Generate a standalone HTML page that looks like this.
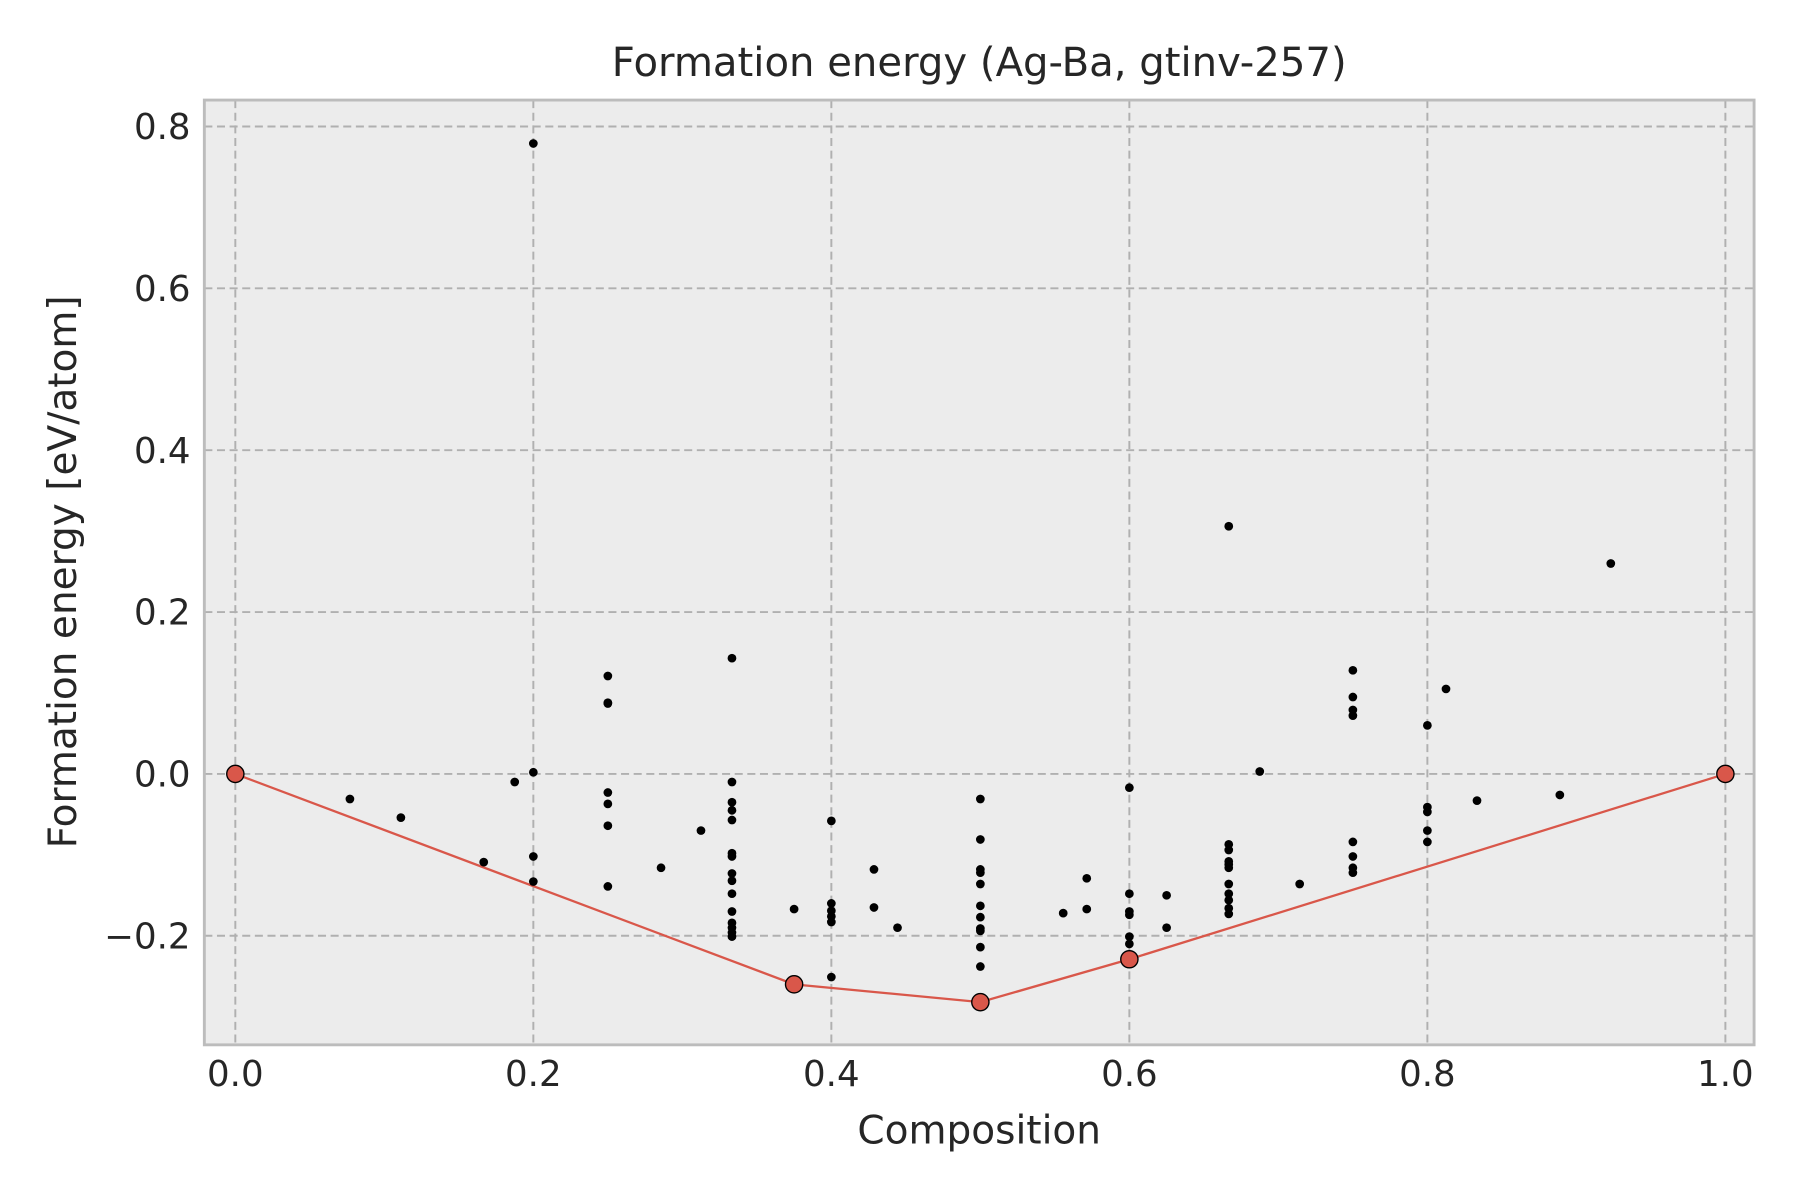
<!DOCTYPE html>
<html><head><meta charset="utf-8"><style>
html,body{margin:0;padding:0;background:#fff;}
svg{display:block;}
text{font-family:"DejaVu Sans","Liberation Sans",sans-serif;fill:#262626;}
</style></head><body>
<svg id="chart" width="1800" height="1200" viewBox="0 0 1568 1045" xmlns="http://www.w3.org/2000/svg">
<rect x="178" y="87" width="1350" height="823" fill="#ececec"/>
<g id="grid"></g>
<g id="hull"></g>
<g id="points"></g>
<rect x="178" y="87" width="1350" height="823" fill="none" stroke="#bcbcbc" stroke-width="2.5"/>
<g id="ticks"></g>
<text x="853" y="66" font-size="35" text-anchor="middle">Formation energy (Ag-Ba, gtinv-257)</text>
<text x="853" y="996" font-size="34" text-anchor="middle">Composition</text>
<text transform="translate(66,498) rotate(-90)" font-size="34" text-anchor="middle">Formation energy [eV/atom]</text>
</svg>
<script>
const xTicks=[0,0.2,0.4,0.6,0.8,1.0];
const xTickLabels=["0.0","0.2","0.4","0.6","0.8","1.0"];
const yTicks=[-0.2,0,0.2,0.4,0.6,0.8];
const yTickLabels=["\u22120.2","0.0","0.2","0.4","0.6","0.8"];
const pointX=[0.0769,0.1111,0.1667,0.1875,0.2,0.2,0.2,0.2,0.25,0.25,0.25,0.25,0.25,0.25,0.25,0.2857,0.3125,
0.3333,0.3333,0.3333,0.3333,0.3333,0.3333,0.3333,0.3333,0.3333,0.3333,0.3333,0.3333,0.3333,0.3333,0.3333,
0.375,0.4,0.4,0.4,0.4,0.4,0.4,0.4286,0.4286,0.4444,
0.5,0.5,0.5,0.5,0.5,0.5,0.5,0.5,0.5,0.5,0.5,0.5556,0.5714,0.5714,
0.6,0.6,0.6,0.6,0.6,0.6,0.625,0.625,
0.6667,0.6667,0.6667,0.6667,0.6667,0.6667,0.6667,0.6667,0.6667,0.6667,0.6667,0.6875,0.7143,
0.75,0.75,0.75,0.75,0.75,0.75,0.75,0.75,0.8,0.8,0.8,0.8,0.8,0.8125,0.8333,0.8889,0.9231];
const pointY=[-0.031,-0.054,-0.109,-0.010,0.779,0.002,-0.102,-0.133,0.121,0.088,0.087,-0.023,-0.037,-0.064,-0.139,-0.116,-0.070,
0.143,-0.010,-0.035,-0.045,-0.057,-0.098,-0.102,-0.123,-0.132,-0.148,-0.170,-0.184,-0.190,-0.196,-0.201,
-0.167,-0.058,-0.160,-0.169,-0.176,-0.183,-0.251,-0.118,-0.165,-0.190,
-0.031,-0.081,-0.118,-0.122,-0.136,-0.163,-0.177,-0.191,-0.194,-0.214,-0.238,-0.172,-0.129,-0.167,
-0.017,-0.148,-0.170,-0.174,-0.201,-0.210,-0.150,-0.190,
0.306,-0.087,-0.094,-0.108,-0.112,-0.116,-0.136,-0.148,-0.156,-0.166,-0.173,0.003,-0.136,
0.128,0.095,0.079,0.072,-0.084,-0.102,-0.116,-0.122,0.060,-0.041,-0.047,-0.070,-0.084,0.105,-0.033,-0.026,0.260];
const hullX=[0,0.375,0.5,0.6,1.0];
const hullY=[0,-0.260,-0.282,-0.229,0];
const NS="http://www.w3.org/2000/svg";
const sx=v=>205+v*1298;
const sy=v=>674-v*705;
function mk(tag,attrs,parent){const e=document.createElementNS(NS,tag);for(const k in attrs)e.setAttribute(k,attrs[k]);document.getElementById(parent).appendChild(e);return e;}
xTicks.forEach((t,i)=>{
 const g=mk('line',{x1:sx(t),x2:sx(t),y1:87,y2:910,stroke:'#b0b0b0','stroke-width':1.7,'stroke-dasharray':'7,4'},'grid');
 
 
 const l=mk('text',{x:sx(t),y:946,'font-size':31,'text-anchor':'middle'},'ticks');
 l.textContent=xTickLabels[i];
 
 
});
yTicks.forEach((t,i)=>{
 const g=mk('line',{x1:178,x2:1528,y1:sy(t),y2:sy(t),stroke:'#b0b0b0','stroke-width':1.7,'stroke-dasharray':'7,4'},'grid');
 
 
 const l=mk('text',{x:166,y:sy(t)+11,'font-size':31,'text-anchor':'end'},'ticks');
 l.textContent=yTickLabels[i];
 
 
});
const pl=mk('polyline',{points:hullX.map((x,i)=>sx(x)+','+sy(hullY[i])).join(' '),fill:'none',stroke:'#d9574a','stroke-width':2},'hull');


pointX.forEach((x,i)=>{
 const c=mk('circle',{cx:sx(x),cy:sy(pointY[i]),r:3.8,fill:'#000'},'points');
 
 
});
hullX.forEach((x,i)=>{
 const c=mk('circle',{cx:sx(x),cy:sy(hullY[i]),r:7.5,fill:'#d9574a',stroke:'#000','stroke-width':1.2},'hull');
 
 
});
</script>
</body></html>
